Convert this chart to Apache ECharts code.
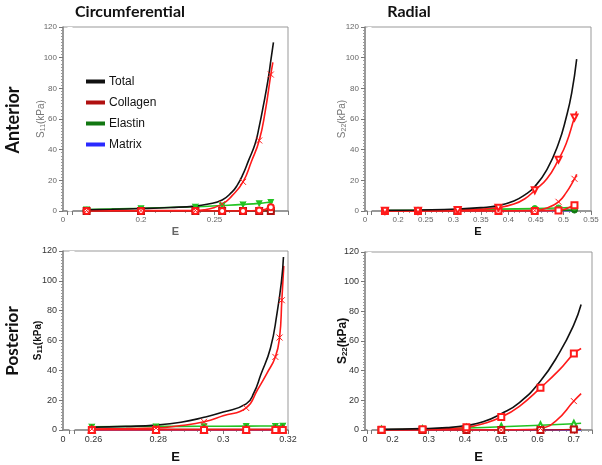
<!DOCTYPE html>
<html><head><meta charset="utf-8">
<script src="https://cdn.jsdelivr.net/npm/echarts@6/dist/echarts.min.js"></script>
<style>html,body{margin:0;padding:0;background:#fff}#c{width:602px;height:465px}</style>
</head><body><div id="c"></div>
<script>
// ---------- DATA (E, S in kPa) ----------
const colTitles = ['Circumferential', 'Radial'];
const rowTitles = ['Anterior', 'Posterior'];
const legendNames = ['Total', 'Collagen', 'Elastin', 'Matrix'];

// tick labels of the four x axes
const tlTicks = [0, 0.2, 0.25];
const trTicks = [0, 0.2, 0.25, 0.3, 0.35, 0.4, 0.45, 0.5, 0.55];
const blTicks = [0, 0.26, 0.28, 0.3, 0.32];
const brTicks = [0, 0.2, 0.3, 0.4, 0.5, 0.6, 0.7];
const yTicks = [0, 20, 40, 60, 80, 100, 120];

// Anterior, circumferential
const tlMarkE = [0.163, 0.2, 0.237, 0.2552, 0.2694, 0.2804, 0.2883];
const tlTotal = [[0.163,0.8],[0.18,1.1],[0.2,1.6],[0.22,2.3],[0.237,3.2],[0.245,4.4],[0.2552,7.2],[0.262,12.5],[0.2653,16.5],[0.2694,24],[0.2732,33],[0.2777,44],[0.2804,55],[0.2833,69],[0.2865,86],[0.2883,98],[0.2901,110]];
const tlCol1 = [[0.163,0.3],[0.2,0.3],[0.237,0.3],[0.243,0.8],[0.2552,4.5],[0.262,10],[0.2694,19],[0.275,32],[0.2804,46],[0.2845,65],[0.2883,89],[0.2897,97]];
const tlCol2 = [[0.163,0],[0.2,0],[0.237,0],[0.2552,0],[0.2694,0],[0.2804,0.3],[0.2883,2.5],[0.2897,4]];
const tlCol3 = [[0.163,0],[0.2,0],[0.237,0],[0.2552,0],[0.2694,0],[0.2804,0],[0.2883,0],[0.2897,0]];
const tlEla = [[0.163,1.0],[0.2,1.8],[0.237,2.8],[0.2552,3.6],[0.2694,4.3],[0.2804,5.0],[0.2883,5.8],[0.2897,6]];
const tlEla2 = [[0.163,0.1],[0.2883,0.1],[0.2897,0.1]];
const tlMat = [[0.163,0.2],[0.2897,0.2]];

// Anterior, radial
const trMarkE = [0.176, 0.236, 0.308, 0.382, 0.448, 0.491, 0.52];
const trTotal = [[0.176,0.4],[0.236,0.7],[0.308,1.3],[0.35,2.2],[0.382,3.5],[0.41,6.5],[0.43,10.5],[0.448,16],[0.47,27],[0.491,44],[0.505,61],[0.515,77],[0.524,99]];
const trCol1 = [[0.176,0.1],[0.236,0.2],[0.308,0.6],[0.35,1.2],[0.382,2.2],[0.41,4.5],[0.43,8],[0.448,13.5],[0.47,21],[0.491,33.5],[0.505,44],[0.52,61],[0.524,65]];
const trCol2 = [[0.176,0],[0.236,0],[0.308,0],[0.382,0],[0.448,0.3],[0.47,2],[0.491,6],[0.505,12],[0.52,21],[0.524,24]];
const trCol3 = [[0.176,0],[0.236,0],[0.308,0],[0.382,0],[0.448,0],[0.491,0.4],[0.505,1.5],[0.52,3.8],[0.524,4.2]];
const trEla = [[0.176,0.3],[0.236,0.5],[0.308,0.8],[0.382,1.2],[0.448,1.6],[0.491,2],[0.52,2.4],[0.524,2.5]];
const trEla2 = [[0.176,0.1],[0.308,0.2],[0.448,0.4],[0.491,0.5],[0.52,0.6],[0.524,0.6]];
const trMat = [[0.176,0.2],[0.524,0.2]];

// Posterior, circumferential
const blMarkE = [0.2595, 0.2793, 0.2941, 0.3071, 0.3161, 0.3174, 0.3181, 0.3184];
const blTotal = [[0.2595,1.8],[0.27,2.4],[0.2793,3.3],[0.287,5.2],[0.2941,8.5],[0.3,12],[0.3071,17.5],[0.3095,25],[0.3116,37],[0.3146,55],[0.3166,78],[0.318,100],[0.3186,116]];
const blCol1 = [[0.2595,0.6],[0.27,0.9],[0.2793,1.3],[0.287,3],[0.2941,5.5],[0.3,9.5],[0.3071,14.8],[0.3106,27],[0.3135,38],[0.3161,49],[0.3174,62],[0.3181,87],[0.3187,110]];
const blCol2 = [[0.2595,0],[0.2793,0],[0.2941,0],[0.3071,0],[0.3161,0],[0.3184,0]];
const blCol3 = [[0.2595,0.4],[0.2793,0.4],[0.2941,0.4],[0.3071,0.4],[0.3161,0.4],[0.3184,0.4]];
const blEla = [[0.2595,2.2],[0.2793,2.4],[0.2941,2.5],[0.3071,2.6],[0.3161,2.7],[0.3184,2.8]];
const blMat = [[0.2595,0.1],[0.3186,0.1]];

// Posterior, radial
const brMarkE = [0.17, 0.283, 0.404, 0.5, 0.608, 0.7];
const brTotal = [[0.17,0.4],[0.283,0.9],[0.35,1.6],[0.404,3],[0.45,5.5],[0.5,11],[0.55,18.5],[0.608,33],[0.66,52],[0.7,71],[0.72,84.6]];
const brCol1 = [[0.17,0.2],[0.283,0.5],[0.35,0.9],[0.404,1.8],[0.45,4.2],[0.5,8.7],[0.55,16],[0.608,28.4],[0.66,40.5],[0.7,51.5],[0.72,55]];
const brCol2 = [[0.17,0],[0.283,0],[0.404,0],[0.5,0],[0.58,0.3],[0.608,1],[0.65,6],[0.7,19.5],[0.72,24.5]];
const brCol3 = [[0.17,0],[0.283,0],[0.404,0],[0.5,0],[0.608,0],[0.7,0.3],[0.72,0.5]];
const brEla = [[0.17,0.2],[0.283,0.5],[0.404,1.3],[0.5,2.2],[0.608,3.2],[0.7,4.2],[0.72,4.5]];
const brMat = [[0.17,0.1],[0.72,0.1]];

// axis ranges: [min, max, interval, breakStart, breakEnd]
const xAxesVals = [[0, 0.30, 0.05, 0.003, 0.153],[0, 0.55, 0.05, 0.004, 0.152],[0, 0.32, 0.02, 0.002, 0.254],[0, 0.75, 0.1, 0.005, 0.142]];
const xTickSets = [tlTicks, trTicks, blTicks, brTicks];
const yAxisVals = [0, 120, 20];

// ---------- STYLE / LAYOUT ----------
const C = { total:'#111111', col:'#ff1a1a', ela:'#22c322', ela2:'#117711', mat:'#2a2aff' };
const SYM = {
  x: 'path://M0,0L10,10M10,0L0,10',
  v: 'path://M0,0L5,10L10,0'
};
const grids = [
  {left:63, top:27, width:225, height:184},
  {left:365, top:27, width:226, height:184},
  {left:63, top:251, width:225, height:183},
  {left:365, top:252, width:227, height:183}
];
const panelDark = [false, false, true, true];
const yNameGap = [16, 17, 19, 16];

const xAxis = xAxesVals.map((a, i) => ({
  type:'value', gridIndex:i, min:a[0], max:a[1], interval:a[2],
  breaks:[{start:a[3], end:a[4], gap:'2%'}],
  breakArea:{show:true, zigzagAmplitude:0, itemStyle:{color:'#fff', borderColor:'#fff', borderWidth:0, opacity:1}},
  name:'E', nameLocation:'middle', nameGap: panelDark[i] ? 21 : 15,
  nameTextStyle:{fontSize: panelDark[i] ? 13 : 11, fontWeight:'bold', color: (i===0) ? '#666' : '#111', fontFamily:'Liberation Sans'},
  axisLine:{lineStyle:{color:'#888', width:1.5}},
  axisTick:{show:true, length:4, lineStyle:{color:'#777'}},
  minorTick:{show:true, splitNumber:5, length:2, lineStyle:{color:'#999'}},
  splitLine:{show:false}, minorSplitLine:{show:false},
  axisLabel:{customValues: xTickSets[i], formatter: v => String(+v.toFixed(3)), hideOverlap:false,
    fontSize: panelDark[i] ? 9 : 8, color: panelDark[i] ? '#333' : '#666', margin:5, fontFamily:'Liberation Sans'}
}));

const yNames = ['11','22','11','22'];
const yAxis = yNames.map((s, i) => ({
  type:'value', gridIndex:i, min:yAxisVals[0], max:yAxisVals[1], interval:yAxisVals[2],
  name:'{s|S}{sub|' + s + '}{s|(kPa)}', nameLocation:'middle', nameRotate:90,
  nameGap: yNameGap[i], nameMoveOverlap:false,
  nameTextStyle:{rich:{
    s:{fontSize: panelDark[i] ? (i===2?10:12) : 10, fontWeight: panelDark[i]?'bold':'normal', color: panelDark[i] ? '#111' : '#777', fontFamily:'Liberation Sans'},
    sub:{fontSize: panelDark[i] ? 8 : 7, fontWeight: panelDark[i]?'bold':'normal', color: panelDark[i] ? '#111' : '#777', verticalAlign:'bottom', padding:[4,0,0,0], fontFamily:'Liberation Sans'}
  }},
  axisLine:{show:true, lineStyle:{color:'#888', width:1.5}},
  axisTick:{show:true, length:4, lineStyle:{color:'#777'}},
  minorTick:{show:true, splitNumber:10, length:2, lineStyle:{color:'#999'}},
  splitLine:{show:false},
  axisLabel:{customValues: yTicks, fontSize: panelDark[i] ? 9 : 8, color: panelDark[i] ? '#333' : '#666', margin:6, fontFamily:'Liberation Sans'}
}));

function line(name, gi, pts, markE, symbol, color, opts) {
  opts = opts || {};
  const data = pts.map(p => (markE && markE.indexOf(p[0]) >= 0 && symbol) ? {value:p} : {value:p, symbol:'none'});
  return Object.assign({
    type:'line', name:name, xAxisIndex:gi, yAxisIndex:gi, data:data,
    smooth:0.5,
    symbol: symbol || 'none', symbolSize: 6, showSymbol:true, showAllSymbol:true,
    lineStyle:{color:color, width:1.6},
    itemStyle:{color:color, borderColor:color, borderWidth:1},
    emphasis:{disabled:true}, animation:false
  }, opts);
}

const series = [
  // TL
  line('Matrix',0,tlMat,null,null,C.mat),
  line('Elastin',0,tlEla2,tlMarkE,'emptyCircle',C.ela2),
  line('Elastin',0,tlEla,tlMarkE,SYM.v,C.ela),
  line('Collagen',0,tlCol3,tlMarkE,'emptyRect','#b01010'),
  line('Collagen',0,tlCol2,tlMarkE,'emptyCircle',C.col),
  line('Collagen',0,tlCol1,tlMarkE,SYM.x,C.col),
  line('Total',0,tlTotal,null,null,C.total),
  // TR
  line('Matrix',1,trMat,null,null,C.mat),
  line('Elastin',1,trEla2,trMarkE,'circle',C.ela2),
  line('Elastin',1,trEla,trMarkE,'circle',C.ela),
  line('Collagen',1,trCol3,trMarkE,'emptyRect',C.col),
  line('Collagen',1,trCol2,trMarkE,SYM.x,C.col),
  line('Collagen',1,trCol1,trMarkE,'emptyTriangle',C.col,{symbolRotate:180}),
  line('Total',1,trTotal,null,null,C.total),
  // BL
  line('Matrix',2,blMat,null,null,C.mat),
  line('Elastin',2,blEla,blMarkE,SYM.v,C.ela),
  line('Collagen',2,blCol3,blMarkE,'emptyTriangle','#c01010'),
  line('Collagen',2,blCol2,blMarkE,'emptyRect',C.col),
  line('Collagen',2,blCol1,blMarkE,SYM.x,C.col),
  line('Total',2,blTotal,null,null,C.total),
  // BR
  line('Matrix',3,brMat,null,null,C.mat),
  line('Elastin',3,brEla,brMarkE,'emptyTriangle',C.ela),
  line('Collagen',3,brCol3,brMarkE,'emptyRect','#c01010'),
  line('Collagen',3,brCol2,brMarkE,SYM.x,C.col),
  line('Collagen',3,brCol1,brMarkE,'emptyRect',C.col),
  line('Total',3,brTotal,null,null,C.total)
];

const option = {
  backgroundColor:'#fff',
  animation:false,
  title:[
    {text:colTitles[0], left:125, top:-1, textAlign:'center', textStyle:{fontSize:16, fontWeight:'bold', color:'#111', fontFamily:'Lato'}},
    {text:colTitles[1], left:404, top:-1, textAlign:'center', textStyle:{fontSize:16, fontWeight:'bold', color:'#111', fontFamily:'Lato'}}
  ],
  graphic:[
    {type:'text', x:4, y:120, rotation:Math.PI/2, style:{text:rowTitles[0], font:'bold 18px Lato', fill:'#111', align:'center', verticalAlign:'top'}},
    {type:'text', x:4, y:341, rotation:Math.PI/2, style:{text:rowTitles[1], font:'bold 17px Lato', fill:'#111', align:'center', verticalAlign:'top'}}
  ],
  legend:{
    data: legendNames.map(n => ({name:n, icon:'rect'})),
    orient:'vertical', left:81, top:70, itemWidth:17, itemHeight:2, itemGap:8,
    textStyle:{fontSize:12, color:'#111', fontFamily:'Liberation Sans', lineHeight:13},
    selectedMode:false
  },
  grid: grids.map(g => Object.assign({show:true, borderColor:'#999', borderWidth:1, backgroundColor:'transparent', containLabel:false}, g)),
  xAxis: xAxis,
  yAxis: yAxis,
  series: series
};

const chart = echarts.init(document.getElementById('c'), null, {renderer:'canvas'});
chart.setOption(option);
</script>
</body></html>
